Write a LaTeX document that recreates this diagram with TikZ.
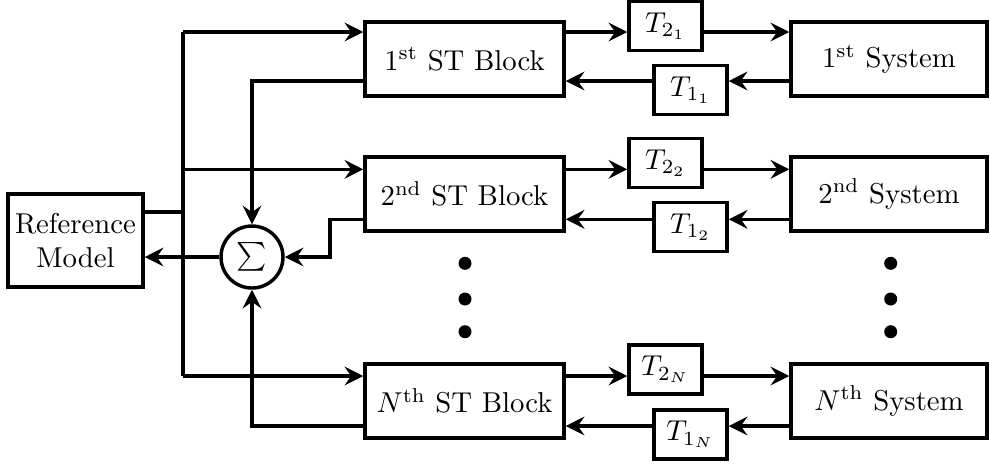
\documentclass[tikz,border=0pt]{standalone}
\usetikzlibrary{arrows.meta}
\newcommand\pxu{0.348pt}
\begin{document}
\begin{tikzpicture}[x=0.348pt,y=-0.348pt,
  line width=1.2pt,
  refbox/.style={draw, rectangle, inner sep=0pt, minimum width=135*\pxu, minimum height=93*\pxu, align=center},
  stbox/.style={draw, rectangle, inner sep=0pt, minimum width=199*\pxu, minimum height=74*\pxu},
  sysbox/.style={draw, rectangle, inner sep=0pt, minimum width=196*\pxu, minimum height=74*\pxu},
  tbox/.style={draw, rectangle, inner sep=0pt, minimum width=73*\pxu, minimum height=49*\pxu},
  sumnode/.style={draw, circle, inner sep=0pt, minimum size=62*\pxu, font=\fontsize{13}{13}\selectfont},
  bigdot/.style={fill, circle, inner sep=0pt, minimum size=13*\pxu},
  arr/.style={-{Stealth[length=6.5pt,width=6.5pt,inset=2.3pt]}}]
\useasboundingbox (0,0) rectangle (990,463);

% blocks
\node[refbox] (ref) at (75.5,240.5) {Reference\\Model};
\node[stbox] (st1) at (464.5,59) {$1^{\mathrm{st}}$ ST Block};
\node[stbox] (st2) at (464.5,194) {$2^{\mathrm{nd}}$ ST Block};
\node[stbox] (stn) at (464.5,401) {$N^{\mathrm{th}}$ ST Block};
\node[sysbox] (sys1) at (889,59) {$1^{\mathrm{st}}$ System};
\node[sysbox] (sys2) at (889,194) {$2^{\mathrm{nd}}$ System};
\node[sysbox] (sysn) at (889,401) {$N^{\mathrm{th}}$ System};
\node[tbox] (a1) at (665.5,26) {$T_{2_1}$};
\node[tbox] (b1) at (690.5,90) {$T_{1_1}$};
\node[tbox] (a2) at (665.5,163) {$T_{2_2}$};
\node[tbox] (b2) at (690.5,227) {$T_{1_2}$};
\node[tbox] (an) at (665.5,369.5) {$T_{2_N}$};
\node[tbox] (bn) at (690.5,434.5) {$T_{1_N}$};
\node[sumnode] (sum) at (252,257) {$\sum$};

% dots
\node[bigdot] (d1) at (465,263.3) {};
\node[bigdot] (d2) at (465,299) {};
\node[bigdot] (d3) at (465,331.7) {};
\node[bigdot] (e1) at (890.7,263.3) {};
\node[bigdot] (e2) at (890.7,299) {};
\node[bigdot] (e3) at (890.7,331.7) {};

% bus from reference model
\coordinate (j0) at (183,212);
\coordinate (j1) at (183,32);
\coordinate (j2) at (183,169.3);
\coordinate (j3) at (183,376);
\draw (ref.east |- j0) -- (j0);
\draw (j1) -- (j3);
\draw[arr] (j1) -- (st1.west |- j1);
\draw[arr] (j2) -- (st2.west |- j2);
\draw[arr] (j3) -- (stn.west |- j3);

% row 1
\draw[arr] (st1.east |- j1) -- (a1.west |- j1);
\draw[arr] (a1.east |- j1) -- (sys1.west |- j1);
\coordinate (o1) at (252,81);
\draw[arr] (sys1.west |- o1) -- (b1.east |- o1);
\draw[arr] (b1.west |- o1) -- (st1.east |- o1);
\draw[arr] (st1.west |- o1) -- (o1) -- (sum.north);

% row 2
\draw[arr] (st2.east |- j2) -- (a2.west |- j2);
\draw[arr] (a2.east |- j2) -- (sys2.west |- j2);
\coordinate (o2) at (330,219.3);
\draw[arr] (sys2.west |- o2) -- (b2.east |- o2);
\draw[arr] (b2.west |- o2) -- (st2.east |- o2);
\draw[arr] (st2.west |- o2) -- (o2) -- (o2 |- sum.east) -- (sum.east);

% row N
\draw[arr] (stn.east |- j3) -- (an.west |- j3);
\draw[arr] (an.east |- j3) -- (sysn.west |- j3);
\coordinate (o3) at (252,426);
\draw[arr] (sysn.west |- o3) -- (bn.east |- o3);
\draw[arr] (bn.west |- o3) -- (stn.east |- o3);
\draw[arr] (stn.west |- o3) -- (o3) -- (sum.south);

% sum to reference
\draw[arr] (sum.west) -- (ref.east |- sum.west);
\end{tikzpicture}
\end{document}
